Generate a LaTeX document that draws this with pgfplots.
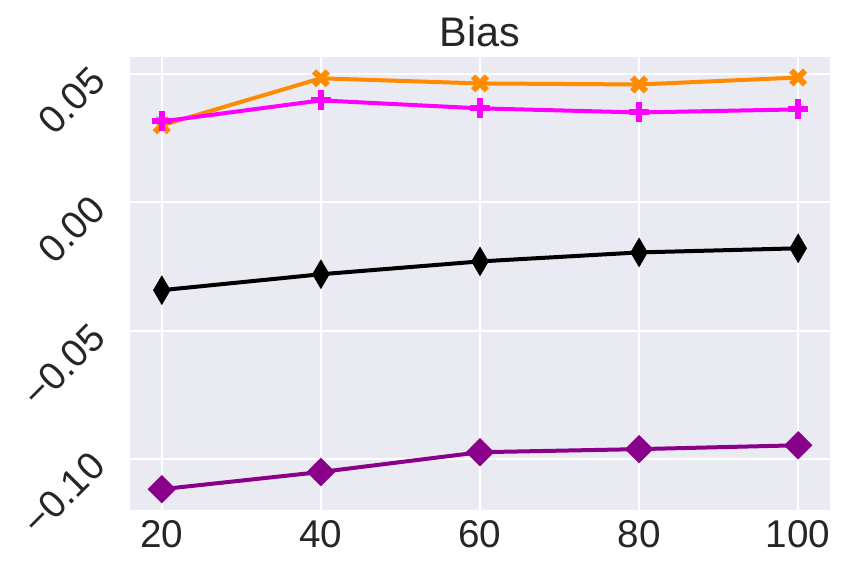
\documentclass[border=0pt]{standalone}
\usepackage{pgfplots}
\pgfplotsset{compat=1.18}
\usepackage{fontspec}
\setmainfont{Liberation Sans}
\definecolor{bg}{HTML}{EAEAF2}
\definecolor{txt}{HTML}{262626}
\definecolor{dorange}{RGB}{255,140,0}
\definecolor{mag}{RGB}{255,0,255}
\definecolor{dmag}{RGB}{139,0,139}
\begin{document}
\begin{tikzpicture}[x=1pt,y=1pt]
\begin{axis}[name=ax,
  at={(0,0)}, anchor=south west,
  scale only axis, width=525pt, height=339.75pt,
  xmin=16, xmax=104, ymin=-0.1198, ymax=0.0566,
  axis background/.style={fill=bg},
  axis line style={draw=none},
  major tick length=0pt,
  grid=major, grid style={white, line width=1.3pt},
  xtick={20,40,60,80,100},
  xticklabels={20,40,60,80,100},
  ytick={-0.10,-0.05,0,0.05},
  yticklabels={−0.10,−0.05,0.00,0.05},
  tick label style={font=\fontsize{29}{34}\selectfont, text=txt},
  yticklabel style={xshift=-24pt, rotate=45, anchor=east, inner sep=0pt},
  xticklabel style={yshift=-4pt},
  /pgf/number format/assume math mode=true,
  title={Bias}, title style={font=\fontsize{31}{36}\selectfont, text=txt, yshift=-2pt},
  clip=false,
]
\addplot[color=dorange, line width=3pt, mark=x, mark size=7.3pt, mark options={line width=4.5pt}]
  coordinates {(20,0.0300) (40,0.0483) (60,0.0463) (80,0.0459) (100,0.0486)};
\addplot[color=mag, line width=3pt, mark=+, mark size=7.5pt, mark options={line width=4.5pt}]
  coordinates {(20,0.0315) (40,0.0397) (60,0.0366) (80,0.0350) (100,0.0362)};
\addplot[color=black, line width=3pt, mark=diamond*, mark size=10.7pt, mark options={xscale=0.78, line width=0.5pt}]
  coordinates {(20,-0.0342) (40,-0.0280) (60,-0.0230) (80,-0.0195) (100,-0.0179)};
\addplot[color=dmag, line width=3pt, mark=diamond*, mark size=10.3pt, mark options={xscale=1.333, line width=0.5pt}]
  coordinates {(20,-0.1117) (40,-0.1050) (60,-0.0973) (80,-0.0961) (100,-0.0946)};
\end{axis}
\pgfresetboundingbox
\path ([shift={(-97.5pt,-51pt)}]ax.south west) rectangle ([shift={(12pt,42.75pt)}]ax.north east);
\end{tikzpicture}
\end{document}
